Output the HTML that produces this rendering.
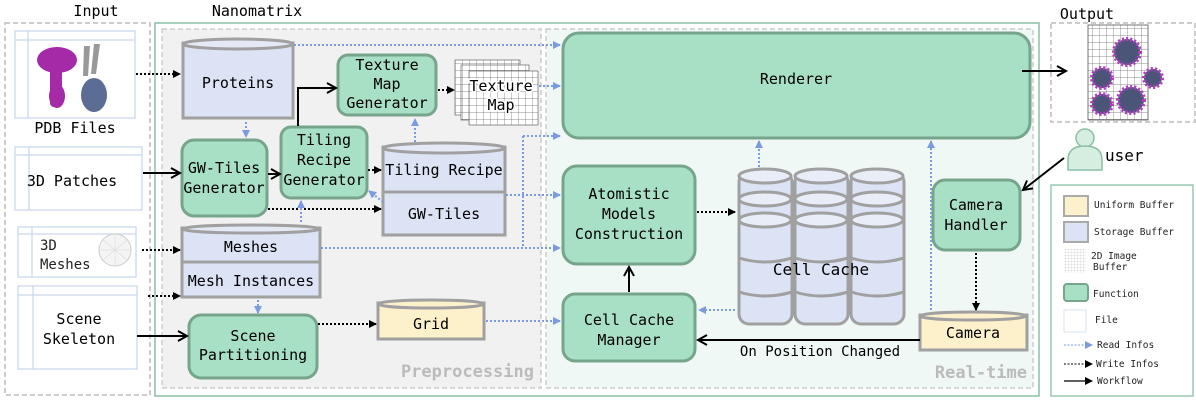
<!DOCTYPE html>
<html><head><meta charset="utf-8"><style>
html,body{margin:0;padding:0;background:#fff;}
svg{display:block;font-family:"DejaVu Sans Mono","Liberation Mono",monospace;}
</style></head><body>
<svg width="1196" height="401" viewBox="0 0 1196 401" xmlns="http://www.w3.org/2000/svg">
<defs>
<marker id="bk" markerWidth="8" markerHeight="8" refX="7" refY="4" orient="auto" markerUnits="userSpaceOnUse"><path d="M0,0 L8,4 L0,8 z" fill="#000"/></marker>
<marker id="bo" markerWidth="12" markerHeight="12" refX="10" refY="6" orient="auto" markerUnits="userSpaceOnUse"><path d="M1,1 L10,6 L1,11" fill="none" stroke="#000" stroke-width="2"/></marker>
<marker id="bl" markerWidth="8" markerHeight="8" refX="7" refY="4" orient="auto" markerUnits="userSpaceOnUse"><path d="M0,0 L8,4 L0,8 z" fill="#7b9be0"/></marker>
<pattern id="grid" width="7" height="7" patternUnits="userSpaceOnUse"><path d="M7,0 L0,0 0,7" fill="none" stroke="#666" stroke-width="0.7"/></pattern>
<pattern id="lgrid" width="3" height="3" patternUnits="userSpaceOnUse"><path d="M3,0 L0,0 0,3" fill="none" stroke="#bbb" stroke-width="0.5"/></pattern>
</defs>

<text x="96" y="16" font-size="15" text-anchor="middle">Input</text>
<text x="257" y="16" font-size="15" text-anchor="middle">Nanomatrix</text>
<text x="1087" y="19" font-size="15" text-anchor="middle">Output</text>

<rect x="5" y="23" width="145" height="372" fill="#fff" stroke="#ccc" stroke-width="2" stroke-dasharray="5,3"/>
<rect x="155" y="23" width="884" height="373" fill="#fff" stroke="#8bbfa5" stroke-width="1.5"/>
<rect x="162" y="29" width="379" height="359" fill="#f1f1f1" stroke="#ccc" stroke-width="1.5" stroke-dasharray="5,3"/>
<rect x="546" y="29" width="487" height="359" fill="#f0f8f5" stroke="#ccc" stroke-width="1.5" stroke-dasharray="5,3"/>
<text x="534" y="377" font-size="17" font-weight="bold" fill="#bbb" text-anchor="end">Preprocessing</text>
<text x="1027" y="378" font-size="17" font-weight="bold" fill="#bbb" text-anchor="end">Real-time</text>
<rect x="1051" y="23" width="144" height="99" fill="#fff" stroke="#ccc" stroke-width="2" stroke-dasharray="5,3"/>

<g fill="#fff" stroke="#c9d8ee" stroke-width="1.3">
<rect x="15" y="31" width="120" height="87"/><line x1="15" y1="40" x2="135" y2="40"/><line x1="28" y1="31" x2="28" y2="118"/>
<rect x="15" y="147" width="127" height="63"/><line x1="15" y1="155" x2="142" y2="155"/><line x1="29" y1="147" x2="29" y2="210"/>
<rect x="18" y="227" width="118" height="50"/><line x1="18" y1="234" x2="136" y2="234"/><line x1="32" y1="227" x2="32" y2="277"/>
<rect x="18" y="286" width="119" height="83"/><line x1="18" y1="295" x2="137" y2="295"/><line x1="33" y1="286" x2="33" y2="369"/>
</g>
<g fill="#a52aa8"><ellipse cx="57" cy="60" rx="20" ry="13"/><rect x="50" y="65" width="12" height="42" rx="4"/><ellipse cx="57" cy="96" rx="8" ry="12"/></g>
<g fill="#999"><path d="M84,46 l6,0 l-2,30 l-5,0z M94,44 l6,0 l-4,30 l-5,0z"/></g>
<ellipse cx="94" cy="95" rx="13" ry="17" fill="#5b6c95"/>
<text x="75" y="133" font-size="15" text-anchor="middle">PDB Files</text>
<text x="72" y="186" font-size="15" text-anchor="middle">3D Patches</text>
<text x="40" y="250" font-size="14" fill="#222">3D</text>
<text x="40" y="269" font-size="14" fill="#222">Meshes</text>
<circle cx="115" cy="250" r="16" fill="#f4f4f4" stroke="#ccc"/>
<path d="M99,250 H131 M115,234 V266 M103,240 L127,260 M103,260 L127,240" stroke="#ddd" stroke-width="0.7"/>
<text x="79" y="324" font-size="15" text-anchor="middle">Scene</text>
<text x="79" y="344" font-size="15" text-anchor="middle">Skeleton</text>

<g stroke="#a0a0a0" stroke-width="3">
<rect x="183" y="43" width="110" height="75" fill="#dbe3f4"/>
<ellipse cx="238" cy="44" rx="55" ry="5" fill="#e4e9f5"/>
<rect x="383" y="147" width="122" height="88" fill="#dbe3f4"/>
<ellipse cx="444" cy="148" rx="61" ry="5" fill="#e4e9f5"/>
<line x1="383" y1="192" x2="505" y2="192"/>
<rect x="182" y="228" width="138" height="69" fill="#dbe3f4"/>
<ellipse cx="251" cy="229" rx="69" ry="4" fill="#e4e9f5"/>
<line x1="182" y1="262" x2="320" y2="262"/>
<rect x="378" y="303" width="106" height="36" fill="#fdf1cc"/>
<ellipse cx="431" cy="304" rx="53" ry="4" fill="#fdf1cc"/>
<rect x="920" y="315" width="107" height="35" fill="#fdf1cc"/>
<ellipse cx="973" cy="316" rx="53" ry="4" fill="#fdf1cc"/>
</g>
<g font-size="15" text-anchor="middle">
<text x="238" y="88">Proteins</text>
<text x="444" y="175">Tiling Recipe</text>
<text x="444" y="219">GW-Tiles</text>
<text x="251" y="252">Meshes</text>
<text x="251" y="286">Mesh Instances</text>
<text x="431" y="329">Grid</text>
<text x="973" y="338">Camera</text>
</g>

<g fill="#a8e0c6" stroke="#77a58c" stroke-width="3">
<rect x="182" y="140" width="85" height="76" rx="12"/>
<rect x="281" y="127" width="86" height="71" rx="10"/>
<rect x="338" y="55" width="98" height="60" rx="10"/>
<rect x="189" y="315" width="128" height="63" rx="12"/>
<rect x="563" y="33" width="467" height="105" rx="16"/>
<rect x="563" y="166" width="132" height="98" rx="14"/>
<rect x="563" y="294" width="132" height="67" rx="12"/>
<rect x="933" y="180" width="87" height="70" rx="12"/>
</g>
<g font-size="15" text-anchor="middle">
<text x="224" y="173">GW-Tiles</text><text x="224" y="193">Generator</text>
<text x="324" y="145">Tiling</text><text x="324" y="165">Recipe</text><text x="324" y="185">Generator</text>
<text x="387" y="70">Texture</text><text x="387" y="89">Map</text><text x="387" y="108">Generator</text>
<text x="253" y="341">Scene</text><text x="253" y="360">Partitioning</text>
<text x="796" y="84">Renderer</text>
<text x="629" y="199">Atomistic</text><text x="629" y="219">Models</text><text x="629" y="239">Construction</text>
<text x="629" y="325">Cell Cache</text><text x="629" y="345">Manager</text>
<text x="976" y="210">Camera</text><text x="976" y="230">Handler</text>
</g>

<rect x="455" y="60" width="65" height="55" fill="#fff" stroke="#666" stroke-width="0.7"/><rect x="455" y="60" width="65" height="55" fill="url(#grid)"/>
<rect x="461" y="65" width="68" height="55" fill="#fff" stroke="#666" stroke-width="0.7"/><rect x="461" y="65" width="68" height="55" fill="url(#grid)"/>
<rect x="469" y="71" width="69" height="54" fill="#fff" stroke="#666" stroke-width="0.7"/><rect x="469" y="71" width="69" height="54" fill="url(#grid)"/>
<text x="501" y="91" font-size="15" text-anchor="middle" style="paint-order:stroke" stroke="#fff" stroke-width="3">Texture</text>
<text x="501" y="110" font-size="15" text-anchor="middle" style="paint-order:stroke" stroke="#fff" stroke-width="3">Map</text>

<g stroke="#a0a0a0" stroke-width="3" fill="#dbe3f4">
<rect x="739" y="172" width="53" height="152" rx="10"/>
<rect x="795" y="172" width="53" height="152" rx="10"/>
<rect x="851" y="172" width="53" height="152" rx="10"/>
<g fill="#e8edf8">
<ellipse cx="765" cy="176" rx="26" ry="7"/><ellipse cx="821" cy="176" rx="26" ry="7"/><ellipse cx="877" cy="176" rx="26" ry="7"/>
<ellipse cx="765" cy="199" rx="26" ry="7"/><ellipse cx="821" cy="199" rx="26" ry="7"/><ellipse cx="877" cy="199" rx="26" ry="7"/>
<ellipse cx="765" cy="220" rx="26" ry="7"/><ellipse cx="821" cy="220" rx="26" ry="7"/><ellipse cx="877" cy="220" rx="26" ry="7"/>
</g>
<path d="M739,258 q26,8 53,0 M795,258 q26,8 53,0 M851,258 q26,8 53,0 M739,292 q26,8 53,0 M795,292 q26,8 53,0 M851,292 q26,8 53,0" fill="none"/>
</g>
<text x="821" y="275" font-size="16" text-anchor="middle">Cell Cache</text>

<rect x="1088" y="25" width="60" height="95" fill="#fff" stroke="#555" stroke-width="0.8"/>
<rect x="1088" y="25" width="60" height="95" fill="url(#grid)"/>
<g fill="#4a5577" stroke="#b03cc0" stroke-width="4" stroke-dasharray="2,2">
<circle cx="1127" cy="52" r="13"/><circle cx="1102" cy="78" r="10"/><circle cx="1153" cy="78" r="9"/><circle cx="1102" cy="104" r="10"/><circle cx="1131" cy="100" r="13"/>
</g>

<circle cx="1085" cy="138" r="9" fill="#d5eee0" stroke="#8bbfa5" stroke-width="1.5"/>
<path d="M1068,170 V160 q0,-14 17,-14 q17,0 17,14 V170 z" fill="#d5eee0" stroke="#8bbfa5" stroke-width="1.5"/>
<text x="1105" y="161" font-size="16">user</text>

<rect x="1051" y="185" width="142" height="211" fill="#fff" stroke="#8bbfa5" stroke-width="1.3"/>
<g font-size="9.5" fill="#222">
<rect x="1064" y="196" width="24" height="20" fill="#fdf1cc" stroke="#aaa" stroke-width="2"/><text x="1094" y="208">Uniform Buffer</text>
<rect x="1064" y="222" width="24" height="20" fill="#dbe3f4" stroke="#aaa" stroke-width="2"/><text x="1094" y="235">Storage Buffer</text>
<rect x="1064" y="249" width="22" height="24" fill="url(#lgrid)"/><text x="1091" y="259">2D Image</text><text x="1093" y="270">Buffer</text>
<rect x="1064" y="284" width="24" height="17" rx="3" fill="#a8e0c6" stroke="#77a58c" stroke-width="2"/><text x="1093" y="297">Function</text>
<rect x="1064" y="310" width="22" height="22" fill="#fff" stroke="#d9e3f0"/><text x="1095" y="323">File</text>
<line x1="1064" y1="345" x2="1092" y2="345" stroke="#7b9be0" stroke-dasharray="2,1.5" marker-end="url(#bl)"/><text x="1097" y="348">Read Infos</text>
<line x1="1064" y1="364" x2="1092" y2="364" stroke="#000" stroke-dasharray="2,1.5" marker-end="url(#bk)"/><text x="1096" y="367">Write Infos</text>
<line x1="1064" y1="381" x2="1092" y2="381" stroke="#000" stroke-width="1.3" marker-end="url(#bk)"/><text x="1097" y="384">Workflow</text>
</g>

<g stroke="#000" stroke-width="2" stroke-dasharray="2,2" fill="none" marker-end="url(#bk)">
<line x1="136" y1="74" x2="180" y2="74"/>
<line x1="142" y1="250" x2="180" y2="250"/>
<line x1="148" y1="296" x2="180" y2="296"/>
<line x1="268" y1="209" x2="381" y2="209"/>
<line x1="368" y1="170" x2="381" y2="170"/>
<line x1="438" y1="90" x2="454" y2="90"/>
<line x1="318" y1="324" x2="376" y2="324"/>
<line x1="697" y1="212" x2="735" y2="212"/>
<line x1="976" y1="253" x2="976" y2="310"/>
</g>
<g stroke="#000" stroke-width="2" fill="none" marker-end="url(#bo)">
<line x1="143" y1="173" x2="180" y2="173"/>
<line x1="268" y1="174" x2="280" y2="174"/>
<polyline points="298,126 298,88 336,88"/>
<line x1="137" y1="336" x2="187" y2="336"/>
<line x1="629" y1="292" x2="629" y2="267"/>
<line x1="920" y1="340" x2="698" y2="340"/>
<line x1="1022" y1="71" x2="1066" y2="71"/>
<line x1="1064" y1="158" x2="1023" y2="190"/>
</g>
<text x="820" y="356" font-size="14" text-anchor="middle">On Position Changed</text>
<g stroke="#7b9be0" stroke-width="2" stroke-dasharray="2,2" fill="none" marker-end="url(#bl)">
<line x1="294" y1="45" x2="560" y2="45"/>
<line x1="539" y1="86" x2="560" y2="86"/>
<line x1="246" y1="122" x2="246" y2="137"/>
<line x1="301" y1="222" x2="301" y2="201"/>
<line x1="415" y1="142" x2="415" y2="119"/>
<line x1="383" y1="202" x2="369" y2="191"/>
<line x1="506" y1="195" x2="560" y2="195"/>
<line x1="523" y1="136" x2="560" y2="136"/>
<line x1="321" y1="248" x2="560" y2="248"/>
<line x1="258" y1="300" x2="258" y2="313"/>
<line x1="486" y1="321" x2="560" y2="321"/>
<line x1="759" y1="167" x2="759" y2="141"/>
<line x1="931" y1="310" x2="931" y2="141"/>
<line x1="735" y1="310" x2="699" y2="310"/>
</g>
<line x1="523" y1="136" x2="523" y2="248" stroke="#7b9be0" stroke-width="2" stroke-dasharray="2,2"/>
</svg>
</body></html>
